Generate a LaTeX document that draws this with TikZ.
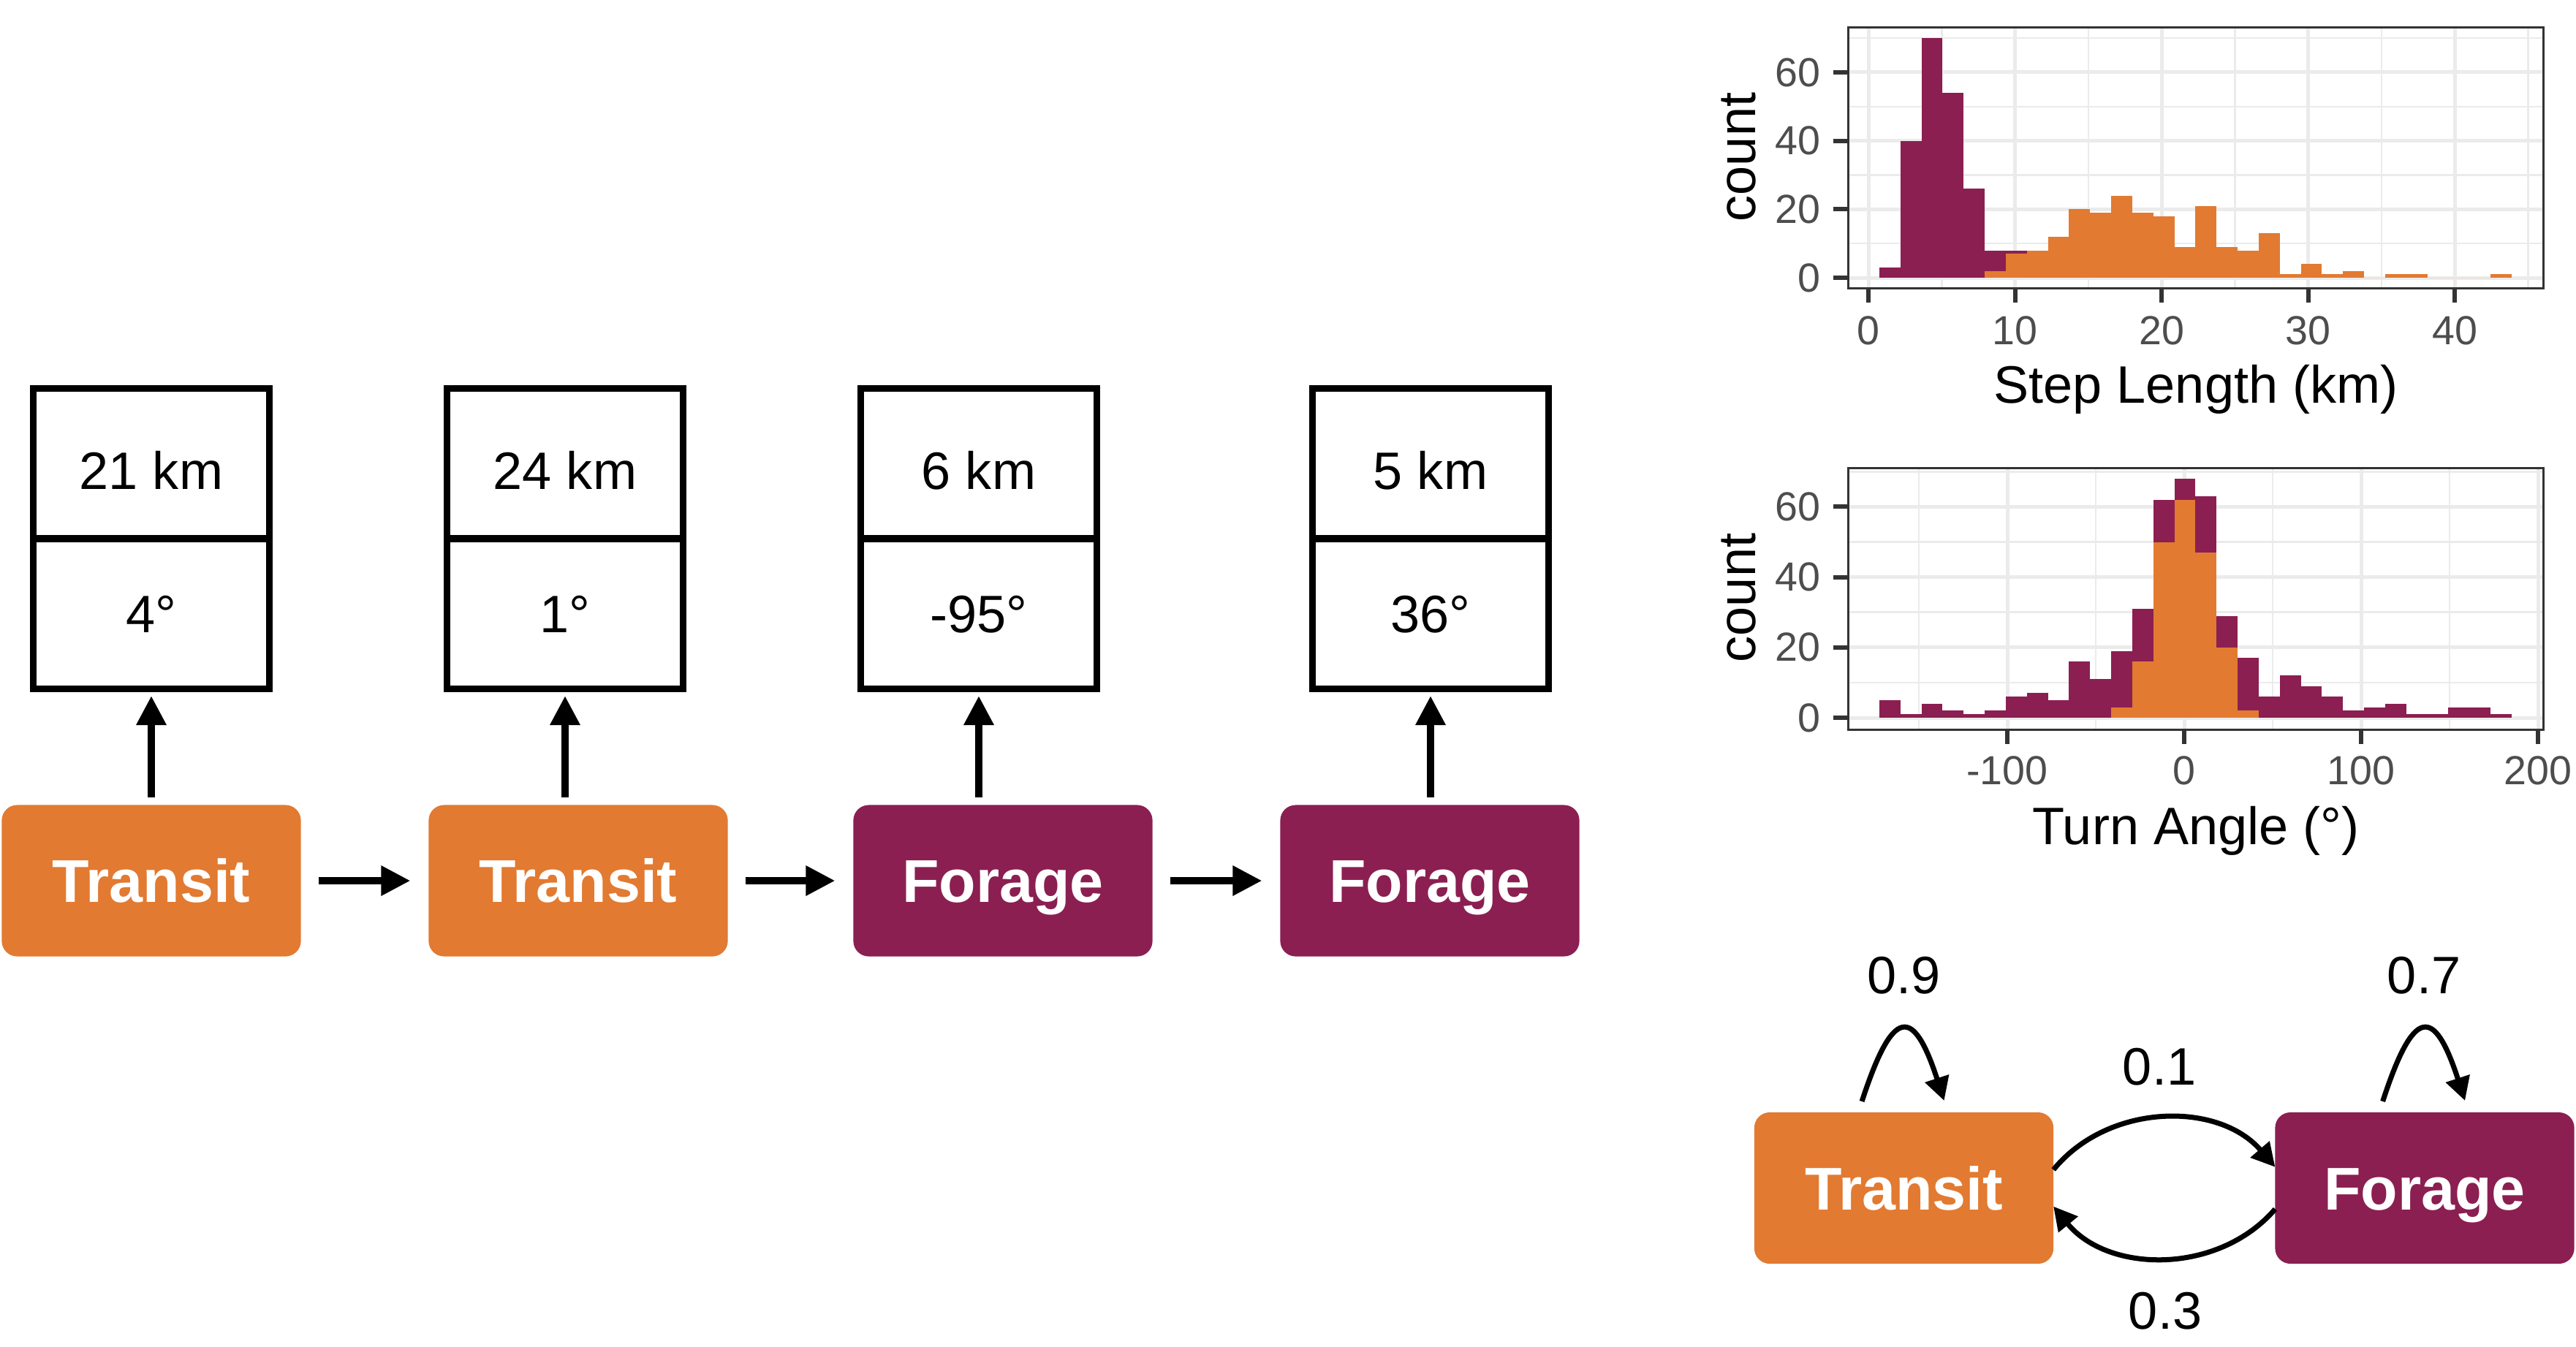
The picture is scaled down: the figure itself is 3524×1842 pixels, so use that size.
\documentclass[tikz,border=0pt]{standalone}
\usepackage{fontspec}
\setmainfont{Liberation Sans}
\usetikzlibrary{arrows.meta, positioning, calc}

\definecolor{transit}{RGB}{226,122,49}
\definecolor{forage}{RGB}{139,31,81}
\definecolor{gridcol}{RGB}{235,235,235}
\definecolor{framecol}{RGB}{51,51,51}
\definecolor{ticktext}{RGB}{77,77,77}

\tikzset{
	statebox/.style = {rectangle, rounded corners = 0.21cm, minimum width = 4.09cm, minimum height = 2.07cm, outer sep = 0pt, text = white, font = \fontsize{23.5}{28}\selectfont\bfseries, text height = 16.9pt, text depth = 0pt},
	cell/.style = {rectangle, draw, line width = 0.09cm, minimum width = 3.22cm, minimum height = 2.05cm, outer sep = 0pt, font = \fontsize{20.5}{24}\selectfont, text height = 15pt, text depth = 0pt},
	emitarrow/.style = {line width = 0.095cm, -{Triangle[length = 0.4cm, width = 0.39cm]}},
	transarrow/.style = {line width = 0.07cm, -{Triangle[length = 0.32cm, width = 0.33cm]}},
	prob/.style = {font = \fontsize{20.5}{24}\selectfont},
	ticklab/.style = {text = ticktext, inner sep = 0pt, font = \fontsize{15.8}{19}\selectfont},
	axtitle/.style = {inner sep = 0pt, font = \fontsize{20.5}{24}\selectfont},
	majorgrid/.style = {gridcol, line width = 0.05cm},
	minorgrid/.style = {gridcol, line width = 0.025cm},
	axtick/.style = {framecol, line width = 0.06cm},
	panelframe/.style = {framecol, line width = 0.03cm}
}

\begin{document}
\begin{tikzpicture}[x = 0.01cm, y = 0.01cm]
	\useasboundingbox (0, 0) rectangle (3524, -1842);

	% emission boxes and state sequence
	\foreach \x/\len/\ang [count = \i] in {207/21/4, 773/24/1, 1339/6/-95, 1957/5/36} {
		\node [cell, text height = 20pt] (top\i) at (\x, -634.5) {\len\ km};
		\node [cell] (bot\i) at (\x, -839.5) {\ang°};
	}

	\node [statebox, fill = transit] (s1) at (207, -1205) {Transit};
	\node [statebox, fill = transit] (s2) at (791, -1205) {Transit};
	\node [statebox, fill = forage] (s3) at (1372, -1205) {Forage};
	\node [statebox, fill = forage] (s4) at (1956, -1205) {Forage};

	\foreach \i in {1, ..., 4}
		\draw [emitarrow, shorten <= 0.1cm, shorten >= 0.1cm] (s\i.north -| bot\i) -- (bot\i);
	\foreach \i/\j in {1/2, 2/3, 3/4}
		\draw [emitarrow, shorten <= 0.24cm, shorten >= 0.25cm] (s\i) -- (s\j);

	\def\binL{2570.9}
	\def\binW{28.83}

	% step length histogram
	\def\sy{-380}
	\def\sc{4.685}
	\coordinate (step ll) at (2528, -394);
	\coordinate (step ur) at (3479, -37);

	\foreach \k in {5, 15, ..., 45}
		\draw [minorgrid] ({2556+\k*20.05}, -37) -- ({2556+\k*20.05}, -394);
	\foreach \c in {10, 30, ..., 70}
		\draw [minorgrid] (2528, {\sy+\c*\sc}) -- (3479, {\sy+\c*\sc});
	\foreach \k in {0, 10, ..., 40}
		\draw [majorgrid] ({2556+\k*20.05}, -37) -- ({2556+\k*20.05}, -394);
	\foreach \c in {0, 20, 40, 60}
		\draw [majorgrid] (2528, {\sy+\c*\sc}) -- (3479, {\sy+\c*\sc});

	\foreach \c [count = \i from 0] in {3, 40, 70, 54, 26, 8, 8}
		\fill [forage] ({\binL+\i*\binW}, \sy) rectangle ++(\binW, {\c*\sc});
	\foreach \c [count = \i from 5] in {2, 7, 8, 12, 20, 19, 24, 19, 18, 9, 21, 9, 8, 13, 1, 4, 1, 2, 0, 1, 1, 0, 0, 0, 1}
		\fill [transit] ({\binL+\i*\binW}, \sy) rectangle ++(\binW, {\c*\sc});

	\draw [panelframe] (step ll) rectangle (step ur);

	\foreach \c in {0, 20, 40, 60} {
		\draw [axtick] (2508, {\sy+\c*\sc}) -- (2528, {\sy+\c*\sc});
		\node [ticklab, anchor = east] (syl\c) at (2491, {\sy+\c*\sc}) {\c};
	}
	\foreach \k in {0, 10, ..., 40} {
		\draw [axtick] ({2556+\k*20.05}, -394) -- ++(0, -20);
		\node [ticklab, anchor = base] (sxl\k) at ({2556+\k*20.05}, -471) {\k};
	}
	\node [axtitle, anchor = base] (step title) at (3004, -551) {Step Length (km)};
	\node [axtitle, rotate = 90, anchor = base] (step count) at (2401, -215) {count};

	% turn angle histogram
	\def\ty{-982}
	\def\tc{4.81}
	\coordinate (turn ll) at (2528, -998);
	\coordinate (turn ur) at (3479, -640);

	\foreach \d in {-150, -50, 50, 150}
		\draw [minorgrid] ({2988+\d*2.42}, -640) -- ({2988+\d*2.42}, -998);
	\foreach \c in {10, 30, ..., 70}
		\draw [minorgrid] (2528, {\ty+\c*\tc}) -- (3479, {\ty+\c*\tc});
	\foreach \d in {-100, 0, 100, 200}
		\draw [majorgrid] ({2988+\d*2.42}, -640) -- ({2988+\d*2.42}, -998);
	\foreach \c in {0, 20, 40, 60}
		\draw [majorgrid] (2528, {\ty+\c*\tc}) -- (3479, {\ty+\c*\tc});

	\foreach \c [count = \i from 0] in {5, 1, 4, 2, 1, 2, 6, 7, 5, 16, 11, 19, 31, 62, 68, 63, 29, 17, 6, 12, 9, 6, 2, 3, 4, 1, 1, 3, 3, 1}
		\fill [forage] ({\binL+\i*\binW}, \ty) rectangle ++(\binW, {\c*\tc});
	\foreach \c [count = \i from 11] in {3, 16, 50, 62, 47, 20, 2}
		\fill [transit] ({\binL+\i*\binW}, \ty) rectangle ++(\binW, {\c*\tc});

	\draw [panelframe] (turn ll) rectangle (turn ur);

	\foreach \c in {0, 20, 40, 60} {
		\draw [axtick] (2508, {\ty+\c*\tc}) -- (2528, {\ty+\c*\tc});
		\node [ticklab, anchor = east] (tyl\c) at (2491, {\ty+\c*\tc}) {\c};
	}
	\foreach \d in {-100, 0, 100, 200} {
		\draw [axtick] ({2988+\d*2.42}, -998) -- ++(0, -20);
		\node [ticklab, anchor = base] (txl\d) at ({2988+\d*2.42}, -1073.5) {\d};
	}
	\node [axtitle, anchor = base] (turn title) at (3004, -1155) {Turn Angle (°)};
	\node [axtitle, rotate = 90, anchor = base] (turn count) at (2401, -818) {count};

	% transition diagram
	\node [statebox, fill = transit] (tr) at (2604.5, -1625.5) {Transit};
	\node [statebox, fill = forage] (fo) at (3317, -1625.5) {Forage};

	\draw [transarrow] (tr.7.5) to [bend left = 50] (fo.172.5);
	\draw [transarrow] (fo.-172.5) to [bend left = 50] (tr.-7.5);
	\draw [transarrow] ([yshift = 0.15cm]tr.119) to [out = 72, in = 108, looseness = 3.1] ([yshift = 0.16cm]tr.62);
	\draw [transarrow] ([yshift = 0.15cm]fo.119) to [out = 72, in = 108, looseness = 3.1] ([yshift = 0.16cm]fo.62);

	\node [prob] (p tt) at (2604.5, -1335) {0.9};
	\node [prob] (p ff) at (3316, -1335) {0.7};
	\node [prob] (p tf) at (2954, -1459.5) {0.1};
	\node [prob] (p ft) at (2962, -1793.5) {0.3};
\end{tikzpicture}
\end{document}
